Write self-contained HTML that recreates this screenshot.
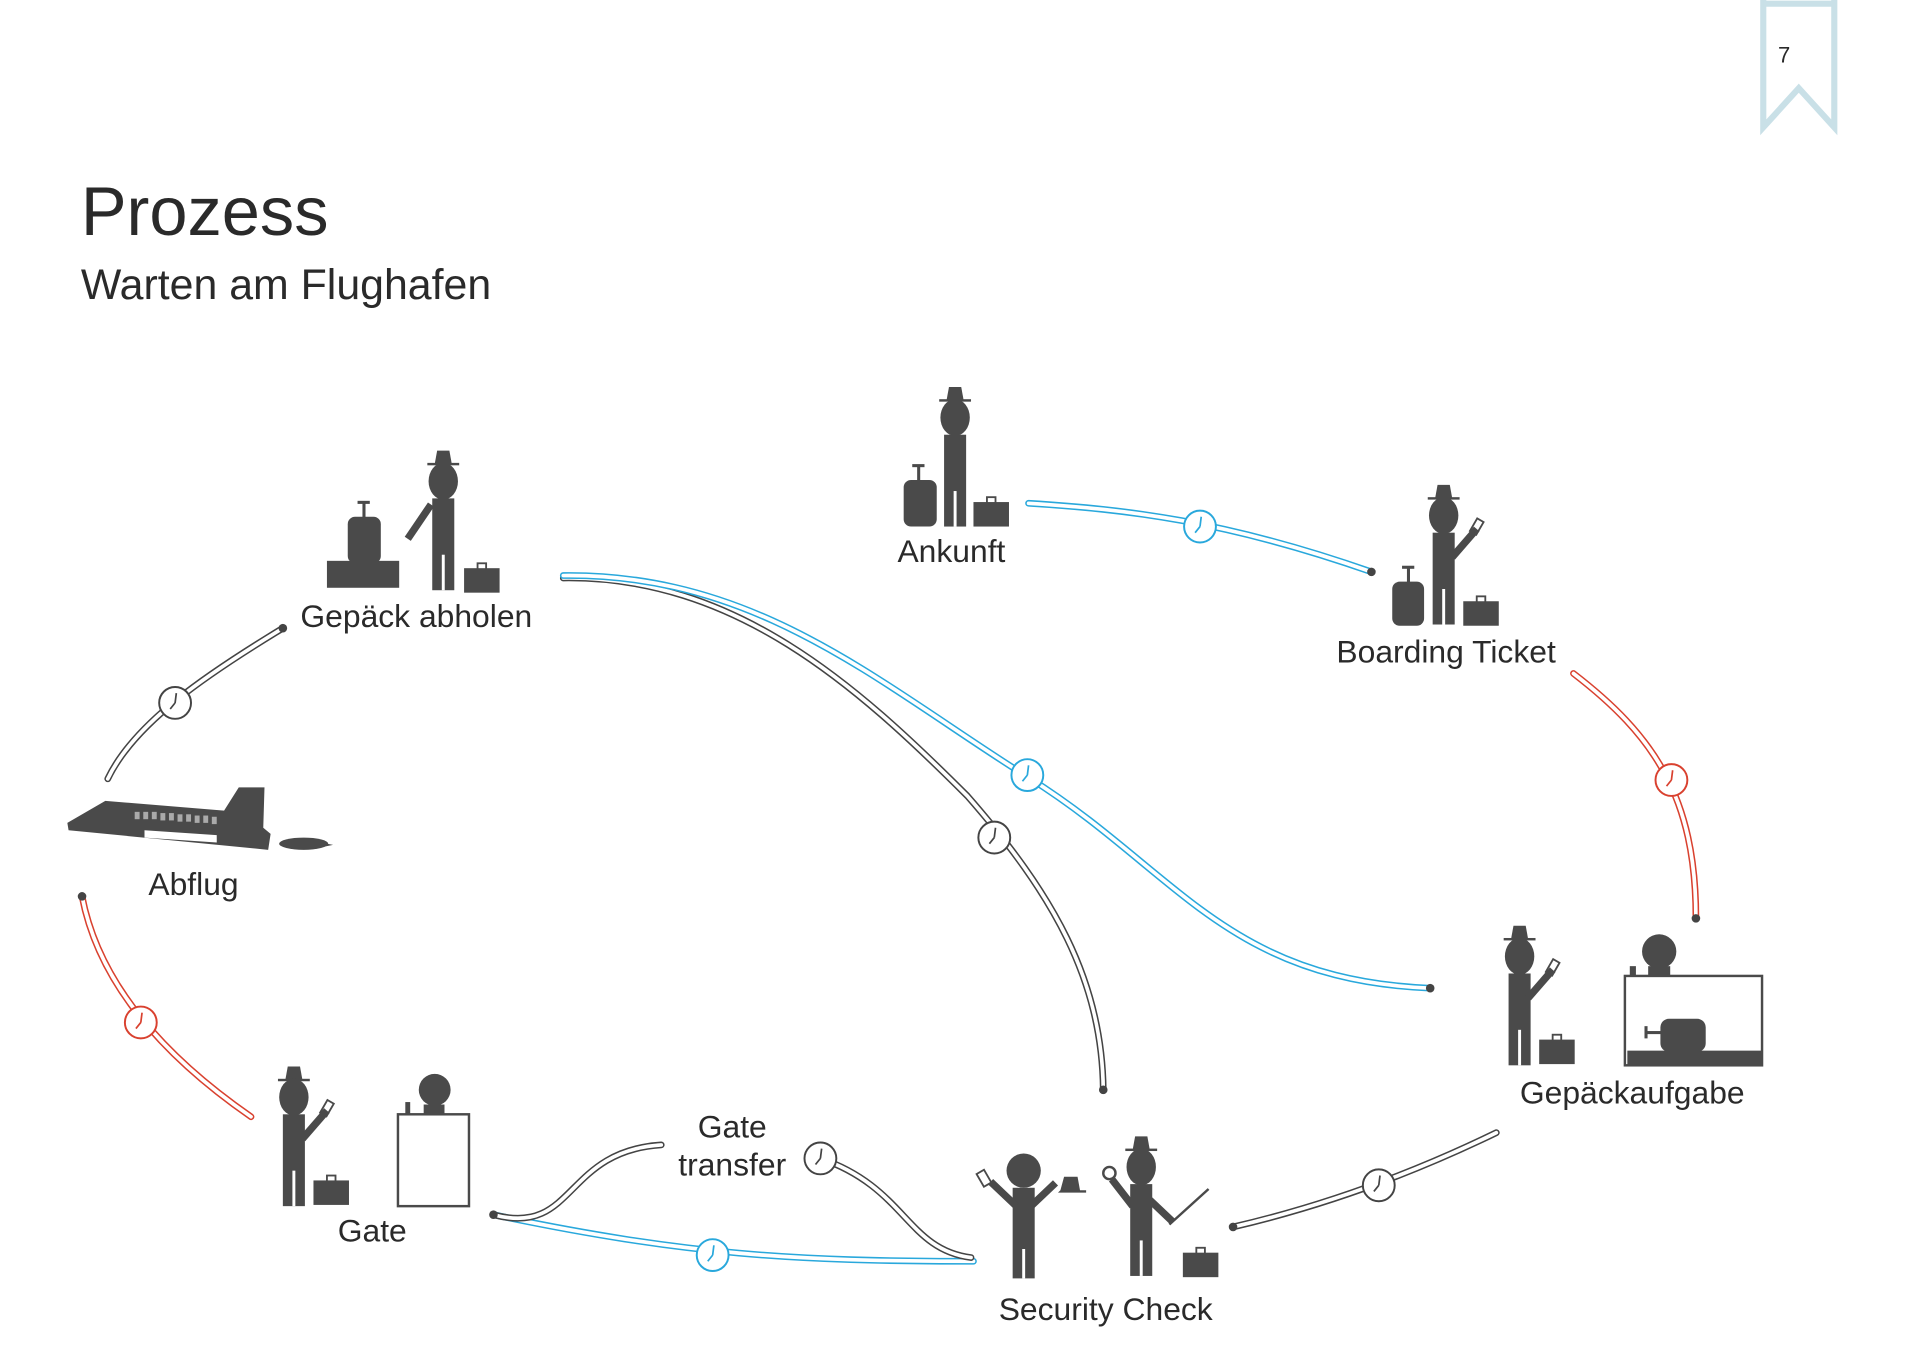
<!DOCTYPE html>
<html><head><meta charset="utf-8"><style>
html,body{margin:0;padding:0;background:#fff;}
svg{display:block;}
text{font-family:"Liberation Sans",sans-serif;fill:#2a2a2a;}
</style></head><body>
<svg width="1920" height="1358" viewBox="0 0 1568 1109" xmlns="http://www.w3.org/2000/svg">
<defs>
<g id="clk">
<circle r="13" fill="#fff" stroke-width="1.6"/>
<path d="M0,0 L1,-8 M0,0 L-4,5" stroke-width="1.4" fill="none"/>
</g>
<g id="person">
<path d="M-5,-25 L5,-25 L7,-14 L-7,-14 Z"/>
<rect x="-13" y="-15" width="26" height="2"/>
<ellipse cx="0" cy="0" rx="12" ry="15"/>
<rect x="-9" y="14" width="18" height="75"/>
<rect x="-1.2" y="60" width="2.4" height="29" fill="#fff"/>
</g>
<g id="brief">
<rect x="0" y="4" width="29" height="20"/>
<rect x="11" y="0" width="7" height="5" fill="none" stroke="#4a4a4a" stroke-width="1.5"/>
</g>
</defs>
<rect width="1568" height="1109" fill="#fff"/>

<!-- bookmark -->
<path d="M1440,0 L1440,104 L1469,72 L1498,104 L1498,0" fill="none" stroke="#c9e0e7" stroke-width="5"/>
<line x1="1440" y1="3" x2="1498" y2="3" stroke="#c9e0e7" stroke-width="5"/>
<text x="1452" y="51" font-size="18">7</text>

<text x="66" y="192" font-size="56">Prozess</text>
<text x="66" y="244" font-size="35">Warten am Flughafen</text>

<g fill="none" stroke-linecap="round">
<path d="M460,472 C600,470 700,560 790,650 C860,730 900,800 901,890" stroke="#444" stroke-width="5.5"/>
<path d="M460,472 C600,470 700,560 790,650 C860,730 900,800 901,890" stroke="#fff" stroke-width="3"/>
<path d="M460,470 C620,468 720,560 840,635 C960,710 1000,800 1168,807" stroke="#29a8dc" stroke-width="5.5"/>
<path d="M460,470 C620,468 720,560 840,635 C960,710 1000,800 1168,807" stroke="#fff" stroke-width="3"/>
<path d="M840,411 C920,416 1000,425 1120,467" stroke="#29a8dc" stroke-width="5.5"/>
<path d="M840,411 C920,416 1000,425 1120,467" stroke="#fff" stroke-width="3"/>
<path d="M1285,550 C1350,600 1385,650 1385,750" stroke="#d9412f" stroke-width="5.5"/>
<path d="M1285,550 C1350,600 1385,650 1385,750" stroke="#fff" stroke-width="3"/>
<path d="M1222,925 C1150,960 1080,985 1007,1002" stroke="#444" stroke-width="5.5"/>
<path d="M1222,925 C1150,960 1080,985 1007,1002" stroke="#fff" stroke-width="3"/>
<path d="M795,1030 C650,1030 560,1025 403,992" stroke="#29a8dc" stroke-width="5.5"/>
<path d="M795,1030 C650,1030 560,1025 403,992" stroke="#fff" stroke-width="3"/>
<path d="M403,992 C470,1010 460,940 540,935" stroke="#444" stroke-width="5.5"/>
<path d="M403,992 C470,1010 460,940 540,935" stroke="#fff" stroke-width="3"/>
<path d="M670,946 C740,970 740,1020 793,1027" stroke="#444" stroke-width="5.5"/>
<path d="M670,946 C740,970 740,1020 793,1027" stroke="#fff" stroke-width="3"/>
<path d="M205,912 C130,860 80,800 67,732" stroke="#d9412f" stroke-width="5.5"/>
<path d="M205,912 C130,860 80,800 67,732" stroke="#fff" stroke-width="3"/>
<path d="M88,636 C110,590 170,550 231,513" stroke="#444" stroke-width="5.5"/>
<path d="M88,636 C110,590 170,550 231,513" stroke="#fff" stroke-width="3"/>
</g>
<g fill="#444">
<circle cx="901" cy="890" r="3.5"/><circle cx="1168" cy="807" r="3.5"/>
<circle cx="1120" cy="467" r="3.5"/><circle cx="1385" cy="750" r="3.5"/>
<circle cx="1007" cy="1002" r="3.5"/><circle cx="403" cy="992" r="3.5"/>
<circle cx="67" cy="732" r="3.5"/><circle cx="231" cy="513" r="3.5"/>
</g>
<use href="#clk" x="980" y="430" stroke="#29a8dc"/>
<use href="#clk" x="1365" y="637" stroke="#d9412f"/>
<use href="#clk" x="1126" y="968" stroke="#444"/>
<use href="#clk" x="582" y="1025" stroke="#29a8dc"/>
<use href="#clk" x="670" y="946" stroke="#444"/>
<use href="#clk" x="115" y="835" stroke="#d9412f"/>
<use href="#clk" x="143" y="574" stroke="#444"/>
<use href="#clk" x="839" y="633" stroke="#29a8dc"/>
<use href="#clk" x="812" y="684" stroke="#444"/>

<g fill="#4a4a4a">
<use href="#person" x="780" y="341"/>
<rect x="738" y="392" width="27" height="38" rx="6"/>
<rect x="749" y="380" width="2.5" height="13"/><rect x="745" y="379" width="10" height="2.5"/>
<use href="#brief" x="795" y="406"/>
<use href="#person" x="362" y="393"/>
<line x1="352" y1="412" x2="333" y2="440" stroke="#4a4a4a" stroke-width="6"/>
<rect x="267" y="458" width="59" height="22"/>
<rect x="284" y="422" width="27" height="38" rx="6"/>
<rect x="296" y="410" width="2.5" height="13"/><rect x="292" y="409" width="10" height="2.5"/>
<use href="#brief" x="379" y="460"/>
<use href="#person" x="1179" y="421"/>
<line x1="1186" y1="455" x2="1206" y2="432" stroke="#4a4a4a" stroke-width="6"/>
<rect x="1203" y="424" width="6" height="12" fill="none" stroke="#4a4a4a" stroke-width="1.5" transform="rotate(30 1206 430)"/>
<rect x="1137" y="475" width="26" height="36" rx="6"/>
<rect x="1149" y="463" width="2.5" height="13"/><rect x="1145" y="462" width="10" height="2.5"/>
<use href="#brief" x="1195" y="487"/>
<use href="#person" x="1241" y="781"/>
<line x1="1248" y1="815" x2="1268" y2="792" stroke="#4a4a4a" stroke-width="6"/>
<rect x="1265" y="784" width="6" height="12" fill="none" stroke="#4a4a4a" stroke-width="1.5" transform="rotate(30 1268 790)"/>
<use href="#brief" x="1257" y="845"/>
<circle cx="1355" cy="777" r="14"/>
<rect x="1346" y="789" width="18" height="8"/><rect x="1331" y="789" width="5" height="8"/>
<rect x="1327" y="797" width="112" height="73" fill="none" stroke="#4a4a4a" stroke-width="2"/>
<rect x="1329" y="858" width="110" height="12"/>
<rect x="1356" y="832" width="37" height="27" rx="7"/>
<rect x="1344" y="842" width="13" height="2.5"/><rect x="1343" y="838" width="2.5" height="10"/>
<use href="#person" x="240" y="896"/>
<line x1="247" y1="930" x2="267" y2="907" stroke="#4a4a4a" stroke-width="6"/>
<rect x="264" y="899" width="6" height="12" fill="none" stroke="#4a4a4a" stroke-width="1.5" transform="rotate(30 267 905)"/>
<use href="#brief" x="256" y="960"/>
<circle cx="355" cy="890" r="13"/>
<rect x="346" y="902" width="17" height="8"/><rect x="331" y="900" width="4" height="10"/>
<rect x="325" y="910" width="58" height="75" fill="none" stroke="#4a4a4a" stroke-width="2"/>
<circle cx="836" cy="956" r="14"/>
<rect x="827" y="970" width="18" height="74"/>
<rect x="834.8" y="1020" width="2.4" height="24" fill="#fff"/>
<line x1="830" y1="985" x2="809" y2="965" stroke="#4a4a4a" stroke-width="6"/>
<line x1="842" y1="985" x2="862" y2="966" stroke="#4a4a4a" stroke-width="6"/>
<rect x="800" y="956" width="7" height="12" fill="none" stroke="#4a4a4a" stroke-width="1.5" transform="rotate(-30 804 962)"/>
<path d="M866,972 L869,961 L880,961 L882,972 L887,972 L887,974 L864,974 Z"/>
<use href="#person" x="932" y="953"/>
<line x1="925" y1="985" x2="908" y2="963" stroke="#4a4a4a" stroke-width="6"/>
<circle cx="906" cy="958" r="5" fill="none" stroke="#4a4a4a" stroke-width="2"/>
<line x1="939" y1="980" x2="958" y2="998" stroke="#4a4a4a" stroke-width="6"/>
<line x1="955" y1="1000" x2="987" y2="971" stroke="#4a4a4a" stroke-width="2"/>
<use href="#brief" x="966" y="1019"/>
<path d="M55,672 L86,654 L183,662 L195,643 L216,643 L215,676 L221,681 L219,694 L56,678 Z"/>
<ellipse cx="248" cy="689" rx="20" ry="5"/>
<path d="M262,688 L272,690 L262,692 Z"/>
</g>
<g fill="#aaa">
<rect x="110" y="663" width="4" height="6"/><rect x="117" y="663" width="4" height="6"/><rect x="124" y="663" width="4" height="6"/><rect x="131" y="664" width="4" height="6"/><rect x="138" y="664" width="4" height="6"/><rect x="145" y="665" width="4" height="6"/><rect x="152" y="665" width="4" height="6"/><rect x="159" y="666" width="4" height="6"/><rect x="166" y="666" width="4" height="6"/><rect x="173" y="667" width="4" height="6"/>
</g>
<polygon points="118,678 177,682 177,688 118,684" fill="#fff"/>

<g font-size="26" text-anchor="middle">
<text x="340" y="512">Gepäck abholen</text>
<text x="777" y="459">Ankunft</text>
<text x="1181" y="541">Boarding Ticket</text>
<text x="158" y="731">Abflug</text>
<text x="1333" y="901">Gepäckaufgabe</text>
<text x="304" y="1014">Gate</text>
<text x="598" y="929">Gate</text>
<text x="598" y="960">transfer</text>
<text x="903" y="1078">Security Check</text>
</g>
</svg>
</body></html>
